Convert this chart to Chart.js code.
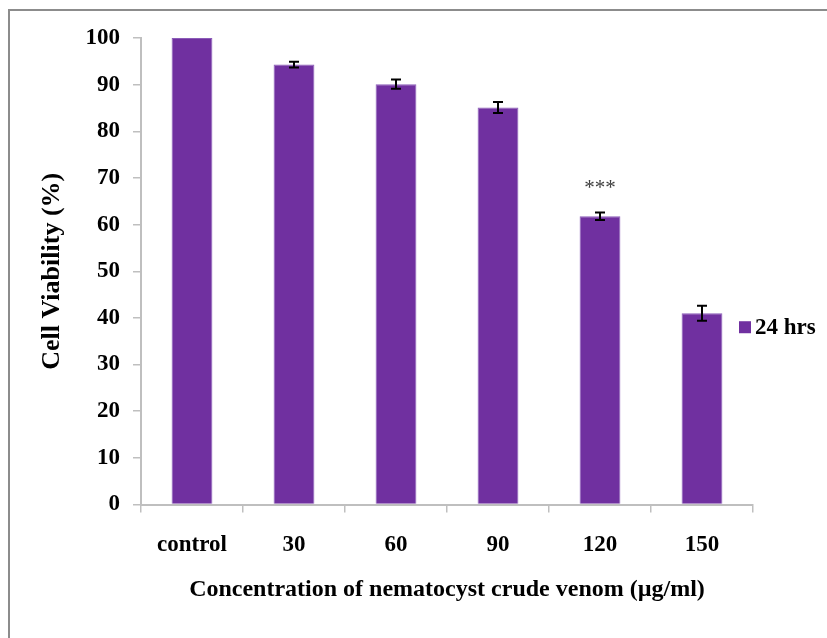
<!DOCTYPE html>
<html>
<head>
<meta charset="utf-8">
<script src="https://cdn.jsdelivr.net/npm/chart.js@4/dist/chart.umd.min.js"></script>
<style>
  html, body { margin: 0; padding: 0; background: #ffffff; }
  #wrap { width: 827px; height: 638px; }
</style>
</head>
<body>
<div id="wrap"><canvas id="chart" width="827" height="638"></canvas></div>
<script>
// Cell viability after 24 h exposure to nematocyst crude venom
const categories = ['control', '30', '60', '90', '120', '150'];
const viability = [100, 94.3, 90.1, 85.1, 61.8, 41.0];
const viabilityError = [0, 0.6, 1.0, 1.2, 0.8, 1.6];
const significance = ['', '', '', '', '***', ''];
const seriesLabel = '24 hrs';
const yMin = 0, yMax = 100, yStep = 10;

const purple = '#7030a0';
const axisGrey = '#bfbfbf';
const serif = '"Liberation Serif", "Times New Roman", serif';

// Outer frame (top and left edges)
const framePlugin = {
  id: 'frame',
  beforeDraw(chart) {
    const ctx = chart.ctx;
    ctx.save();
    ctx.strokeStyle = '#8c8c8c';
    ctx.lineWidth = 2;
    ctx.beginPath();
    ctx.moveTo(9, chart.height);
    ctx.lineTo(9, 10);
    ctx.lineTo(chart.width, 10);
    ctx.stroke();
    ctx.restore();
  }
};

// Error bars and significance marks above each bar
const errorBarPlugin = {
  id: 'errorBars',
  afterDatasetsDraw(chart) {
    const ctx = chart.ctx;
    const y = chart.scales.y;
    const meta = chart.getDatasetMeta(0);
    ctx.save();
    meta.data.forEach((bar, i) => {
      const v = viability[i];
      const e = viabilityError[i];
      const x = bar.x;
      if (e > 0) {
        const yTop = y.getPixelForValue(v + e);
        const yBot = y.getPixelForValue(v - e);
        ctx.strokeStyle = '#000';
        ctx.lineWidth = 2;
        ctx.beginPath();
        ctx.moveTo(x, yTop); ctx.lineTo(x, yBot);
        ctx.moveTo(x - 5, yTop); ctx.lineTo(x + 5, yTop);
        ctx.moveTo(x - 5, yBot); ctx.lineTo(x + 5, yBot);
        ctx.stroke();
      }
      if (significance[i]) {
        ctx.fillStyle = '#404040';
        ctx.font = '21px ' + serif;
        ctx.textAlign = 'center';
        ctx.textBaseline = 'middle';
        ctx.fillText(significance[i], x, y.getPixelForValue(v + e) - 24);
      }
    });
    ctx.restore();
  }
};

// Legend drawn at the right side of the plot
const legendPlugin = {
  id: 'sideLegend',
  afterDraw(chart) {
    const ctx = chart.ctx;
    const area = chart.chartArea;
    const cy = area.top + (area.bottom - area.top) * 0.62;
    const bx = area.right - 14;
    ctx.save();
    ctx.fillStyle = purple;
    ctx.fillRect(bx, cy - 6, 12, 12);
    ctx.fillStyle = '#000';
    ctx.font = 'bold 23px ' + serif;
    ctx.textAlign = 'left';
    ctx.textBaseline = 'middle';
    ctx.fillText(chart.data.datasets[0].label, bx + 16, cy + 1);
    ctx.restore();
  }
};

new Chart(document.getElementById('chart'), {
  type: 'bar',
  data: {
    labels: categories,
    datasets: [{
      label: seriesLabel,
      data: viability,
      backgroundColor: purple,
      borderColor: '#8b5cb8',
      borderWidth: 1,
      barPercentage: 0.4,
      categoryPercentage: 1.0
    }]
  },
  options: {
    responsive: false,
    animation: false,
    layout: { padding: { left: 0, right: 74, top: 38, bottom: 0 } },
    plugins: {
      legend: { display: false },
      tooltip: { enabled: false }
    },
    scales: {
      x: {
        afterFit(scale) { scale.height = 133.5; },
        grid: {
          offset: true,
          drawOnChartArea: false,
          drawTicks: true,
          tickLength: 8,
          color: axisGrey,
          lineWidth: 1.5
        },
        border: { display: true, color: axisGrey, width: 2 },
        ticks: {
          color: '#000',
          padding: 19,
          font: { family: serif, size: 23, weight: 'bold' }
        },
        title: {
          display: true,
          text: 'Concentration of nematocyst crude venom (µg/ml)',
          color: '#000',
          font: { family: serif, size: 24, weight: 'bold' },
          padding: { top: 0, bottom: 34 }
        }
      },
      y: {
        min: yMin,
        max: yMax,
        afterFit(scale) { scale.width = 141; },
        grid: {
          drawOnChartArea: false,
          drawTicks: true,
          tickLength: 8,
          color: axisGrey,
          lineWidth: 1.5
        },
        border: { display: true, color: axisGrey, width: 2 },
        ticks: {
          stepSize: yStep,
          color: '#000',
          padding: 13,
          font: { family: serif, size: 23, weight: 'bold' }
        },
        title: {
          display: true,
          text: 'Cell Viability (%)',
          color: '#000',
          font: { family: serif, size: 26, weight: 'bold' },
          padding: { top: 37, bottom: 0 }
        }
      }
    }
  },
  plugins: [framePlugin, errorBarPlugin, legendPlugin]
});
</script>
</body>
</html>
